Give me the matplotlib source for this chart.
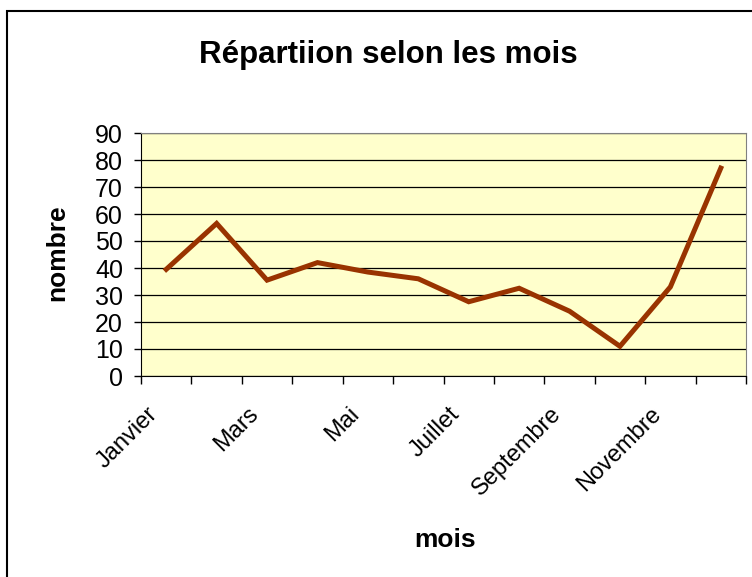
import matplotlib
matplotlib.use('Agg')
import matplotlib.pyplot as plt
import matplotlib.transforms as mtransforms
from matplotlib.patches import Rectangle
import numpy as np

months = ['Janvier', 'Février', 'Mars', 'Avril', 'Mai', 'Juin', 'Juillet',
          'Août', 'Septembre', 'Octobre', 'Novembre', 'Décembre']
values = [39.5, 56.5, 35.5, 42, 38.5, 36, 27.5, 32.5, 24, 11, 33, 77]
yticks = [0, 10, 20, 30, 40, 50, 60, 70, 80, 90]

plt.rcParams['font.family'] = ['Liberation Sans', 'DejaVu Sans']

W, H = 752, 577
fig = plt.figure(figsize=(W / 100, H / 100), dpi=100)

# chart-area border (cut off at right and bottom like the reference)
fig.patches.append(Rectangle((7 / W, -0.05), 2, 1 - 11 / H + 0.05,
                             transform=fig.transFigure, fill=False,
                             edgecolor='black', linewidth=1.5))

ax = fig.add_axes([141 / W, 1 - 376 / H, (746 - 141) / W, (376 - 133) / H])
ax.set_facecolor('#FFFFCC')

x = np.arange(len(months))
ax.plot(x, values, color='#993300', linewidth=3.6, solid_joinstyle='miter')

ax.set_xlim(-0.5, len(months) - 0.5)
ax.set_ylim(0, 90)
ax.set_yticks(yticks)
ax.yaxis.grid(True, color='black', linewidth=0.9)
ax.set_axisbelow(True)

ax.set_xticks(x[::2])
ax.set_xticklabels(months[::2], rotation=45, ha='right', rotation_mode='anchor')
ax.set_xticks(np.arange(-0.5, len(months), 1), minor=True)
ax.tick_params(axis='x', which='major', length=0, pad=16, labelsize=17)
ax.tick_params(axis='x', which='minor', length=6, width=1, direction='out')
ax.tick_params(axis='y', length=5, width=1, labelsize=18, pad=8)

shift = mtransforms.ScaledTranslation(-20 / 100, -5 / 100, fig.dpi_scale_trans)
for lbl in ax.get_xticklabels():
    lbl.set_transform(lbl.get_transform() + shift)

for s in ['top', 'right']:
    ax.spines[s].set_color('#808080')
for s in ['left', 'bottom']:
    ax.spines[s].set_color('black')

fig.text(57 / W, 1 - 253 / H, 'nombre', fontsize=19, fontweight='bold',
         rotation=90, ha='center', va='center')
fig.text(445 / W, 1 - 540 / H, 'mois', fontsize=19, fontweight='bold',
         ha='center', va='center')
fig.text(388 / W, 1 - 55 / H, 'Répartiion selon les mois', fontsize=22.5,
         fontweight='bold', ha='center', va='center')

fig.savefig('out.png', dpi=100)
